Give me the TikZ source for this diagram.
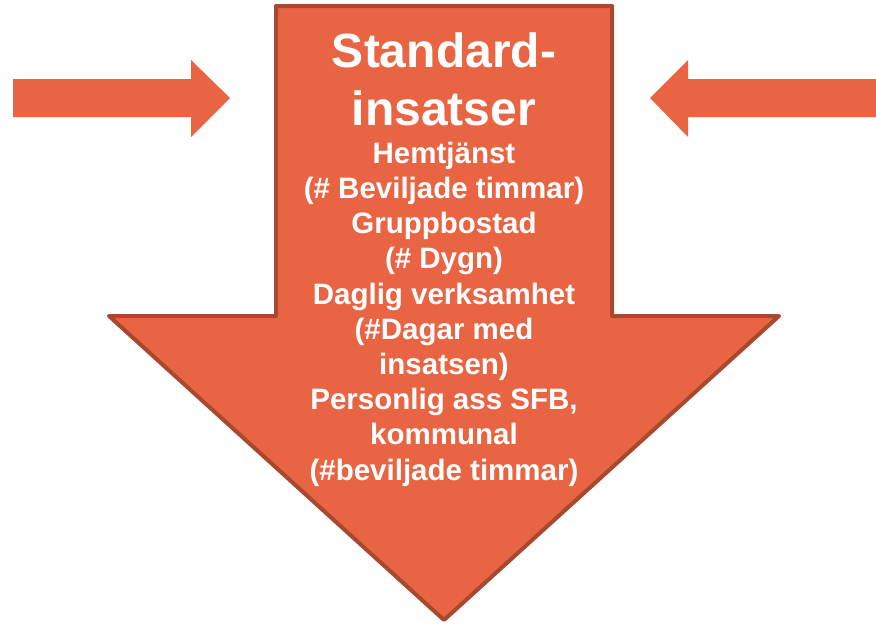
\documentclass[tikz,border=0pt]{standalone}
\usepackage{fontspec}
\setmainfont{Liberation Sans}
\usepackage{tikz}
\definecolor{arrowfill}{RGB}{233,100,67}
\definecolor{arrowline}{RGB}{168,72,46}
\begin{document}
\begin{tikzpicture}[x=1pt,y=-1pt, inner sep=0pt, line join=round]
\useasboundingbox (0,0) rectangle (876,625);
% big arrow down
\draw[fill=arrowfill, draw=arrowline, line width=4pt] (276,6) -- (612,6) -- (612,316) -- (779,316) -- (444,620) -- (109,316) -- (276,316) -- cycle;
% arrows from the sides
\fill[arrowfill] (13,79) -- (191,79) -- (191,60) -- (230,98) -- (191,137) -- (191,117) -- (13,117) -- cycle;
\fill[arrowfill] (876,79) -- (688,79) -- (688,60) -- (650,98) -- (688,137) -- (688,117) -- (876,117) -- cycle;
% texts (base is the last line)
\node (title) at (444,125) [anchor=base, align=center, text=white, font=\fontsize{48}{58}\selectfont\bfseries] {Standard-\\insatser};
\node (list) at (444,480) [anchor=base, align=center, text=white, font=\fontsize{29.5}{35.2}\selectfont\bfseries] {Hemtjänst\\(\# Beviljade timmar)\\Gruppbostad\\(\# Dygn)\\Daglig verksamhet\\(\#Dagar med\\insatsen)\\Personlig ass SFB,\\kommunal\\(\#beviljade timmar)};
\end{tikzpicture}
\end{document}
